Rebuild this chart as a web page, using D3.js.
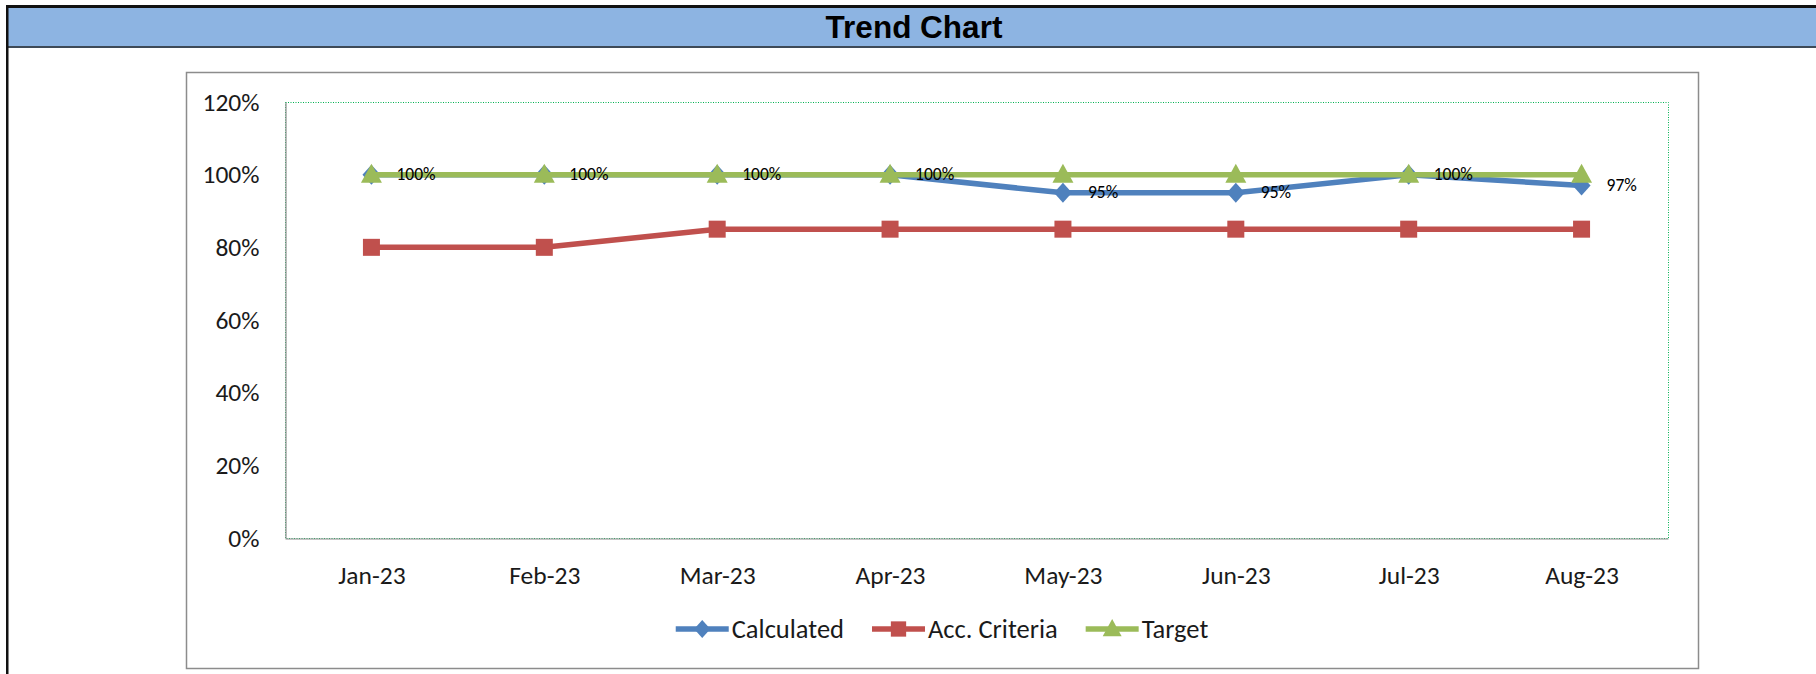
<!DOCTYPE html>
<html>
<head>
<meta charset="utf-8">
<script src="https://cdn.jsdelivr.net/npm/d3@7"></script>
<style>
  body { margin: 0; background: #fff; }
  svg { display: block; }
</style>
</head>
<body>
<div id="trend-chart"></div>
<script>
// values
const months = ["Jan-23", "Feb-23", "Mar-23", "Apr-23", "May-23", "Jun-23", "Jul-23", "Aug-23"];
const calculated = [1.00, 1.00, 1.00, 1.00, 0.95, 0.95, 1.00, 0.97];
const accCriteria = [0.80, 0.80, 0.85, 0.85, 0.85, 0.85, 0.85, 0.85];
const target = [1.00, 1.00, 1.00, 1.00, 1.00, 1.00, 1.00, 1.00];
const yTicks = [0, 0.2, 0.4, 0.6, 0.8, 1.0, 1.2];
const seriesNames = ["Calculated", "Acc. Criteria", "Target"];

const blue = "#4f81bd", red = "#c0504d", green = "#9bbb59";
const tickFont = "Carlito, Lato, sans-serif";

function createTrendChart() {
    const W = 1816, H = 674;
    const box = { left: 186, top: 72, right: 1698, bottom: 668 };
    const plot = { left: 285, top: 102, right: 1668, bottom: 538 };

    const svg = d3.select("#trend-chart").append("svg")
        .attr("width", W)
        .attr("height", H);

    // header bar
    svg.append("rect").attr("x", 7).attr("y", 7).attr("width", W - 7).attr("height", 40).attr("fill", "#8db4e2");
    svg.append("rect").attr("x", 6).attr("y", 5).attr("width", W - 6).attr("height", 3).attr("fill", "#111");
    svg.append("rect").attr("x", 6).attr("y", 46).attr("width", W - 6).attr("height", 2).attr("fill", "#3e4a57");
    svg.append("rect").attr("x", 6).attr("y", 5).attr("width", 2.5).attr("height", H - 5).attr("fill", "#111");
    svg.append("text")
        .attr("x", 914).attr("y", 38)
        .attr("text-anchor", "middle")
        .style("font-family", "'Liberation Sans', Arial, sans-serif")
        .style("font-weight", "bold")
        .style("font-size", "31.5px")
        .attr("fill", "#000")
        .text("Trend Chart");

    // chart frame
    svg.append("rect")
        .attr("x", box.left + 0.5).attr("y", box.top + 0.5)
        .attr("width", box.right - box.left).attr("height", box.bottom - box.top)
        .attr("fill", "#fff").attr("stroke", "#8c8c8c").attr("stroke-width", 1.5);

    const x = d3.scalePoint()
        .domain(months)
        .range([plot.left, plot.right])
        .padding(0.5);

    const y = d3.scaleLinear()
        .domain([0, 1.2])
        .range([plot.bottom, plot.top]);

    // plot area, dotted green border
    svg.append("rect")
        .attr("x", plot.left + 0.5).attr("y", plot.top + 0.5)
        .attr("width", plot.right - plot.left).attr("height", plot.bottom - plot.top)
        .attr("fill", "none").attr("stroke", "#00b050").attr("stroke-width", 1)
        .attr("stroke-dasharray", "1,1.5");

    const yAxis = svg.append("g")
        .attr("transform", `translate(${plot.left + 0.5},0)`)
        .call(d3.axisLeft(y).tickValues(yTicks).tickFormat(d3.format(".0%")).tickSize(0).tickPadding(26));
    const xAxis = svg.append("g")
        .attr("transform", `translate(0,${plot.bottom + 0.5})`)
        .call(d3.axisBottom(x).tickSize(0).tickPadding(27));

    [yAxis, xAxis].forEach(g => {
        g.select(".domain").attr("stroke", "#8c8c8c").attr("stroke-width", 1.2);
        g.selectAll("text")
            .style("font-family", tickFont)
            .style("font-size", "25.5px")
            .attr("fill", "#1a1a1a");
    });

    const line = d3.line()
        .x((d, i) => x(months[i]))
        .y(d => y(d));

    const series = [
        { name: seriesNames[0], values: calculated, color: blue, shape: "diamond" },
        { name: seriesNames[1], values: accCriteria, color: red, shape: "square" },
        { name: seriesNames[2], values: target, color: green, shape: "triangle" }
    ];

    function marker(g, shape, color) {
        if (shape === "diamond") {
            g.append("path").attr("d", "M0,-10 L9,0 L0,10 L-9,0 Z").attr("fill", color);
        } else if (shape === "square") {
            g.append("rect").attr("x", -8.5).attr("y", -8.5).attr("width", 17).attr("height", 17).attr("fill", color);
        } else {
            g.append("path").attr("d", "M0,-11 L10.5,8 L-10.5,8 Z").attr("fill", color);
        }
    }

    series.forEach(s => {
        svg.append("path")
            .datum(s.values)
            .attr("fill", "none")
            .attr("stroke", s.color)
            .attr("stroke-width", 5.5)
            .attr("stroke-linejoin", "round")
            .attr("d", line);

        svg.selectAll(null)
            .data(s.values)
            .enter()
            .append("g")
            .attr("transform", (d, i) => `translate(${x(months[i])},${y(d)})`)
            .each(function() { marker(d3.select(this), s.shape, s.color); });
    });

    // data labels on the Calculated series
    svg.selectAll(".data-label")
        .data(calculated)
        .enter()
        .append("text")
        .attr("class", "data-label")
        .attr("x", (d, i) => x(months[i]) + 25)
        .attr("y", d => y(d) - 1)
        .attr("dy", "0.35em")
        .style("font-family", tickFont)
        .style("font-size", "17.5px")
        .attr("fill", "#000")
        .text(d => d3.format(".0%")(d));

    // legend
    const legend = svg.append("g").attr("transform", "translate(0,629)");
    const items = [];
    series.forEach(s => {
        const g = legend.append("g");
        g.append("line").attr("x1", 0).attr("x2", 53).attr("y1", 0).attr("y2", 0)
            .attr("stroke", s.color).attr("stroke-width", 5.5);
        const m = g.append("g").attr("transform", "translate(26.5,0) scale(0.9)");
        marker(m, s.shape, s.color);
        const t = g.append("text")
            .attr("x", 56).attr("dy", "0.35em")
            .style("font-family", tickFont)
            .style("font-size", "26.5px")
            .attr("fill", "#1a1a1a")
            .text(s.name);
        items.push({ g, w: 56 + t.node().getComputedTextLength() });
    });
    const gap = 28;
    const total = d3.sum(items, d => d.w) + gap * (items.length - 1);
    let cx = (box.left + box.right) / 2 - total / 2;
    items.forEach(it => {
        it.g.attr("transform", `translate(${cx},0)`);
        cx += it.w + gap;
    });
}

createTrendChart();
</script>
</body>
</html>
